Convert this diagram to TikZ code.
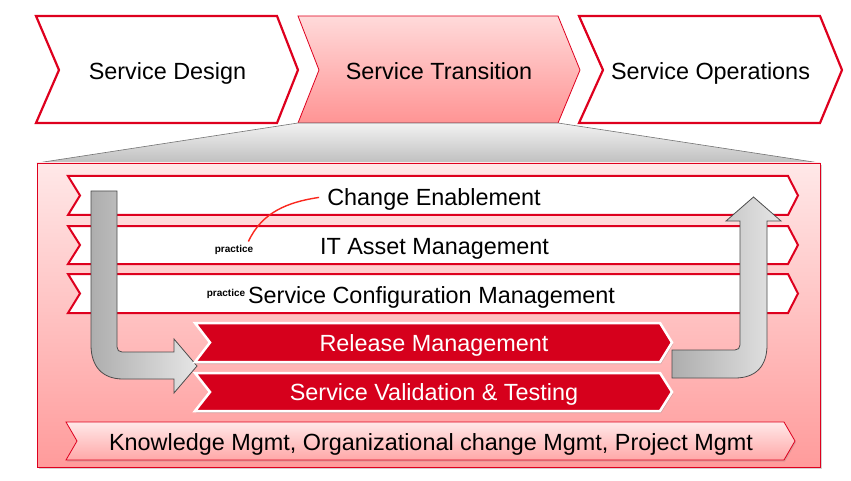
\documentclass[tikz,border=0pt]{standalone}
\usepackage{fontspec}
\setmainfont{Liberation Sans}
\usetikzlibrary{shadows}
\definecolor{itilred}{RGB}{222,0,30}
\definecolor{itilfill}{RGB}{214,0,28}
\definecolor{curvered}{RGB}{250,40,30}
\begin{document}
\begin{tikzpicture}[x=1pt,y=-1pt,
  bigtext/.style={font=\fontsize{23.4}{27}\selectfont, text height=16.8pt, text depth=0pt, inner sep=0pt},
  smalltext/.style={font=\fontsize{10}{12}\selectfont\bfseries, inner sep=0pt},
  phaseplain/.style={draw=itilred, line width=2.2pt, fill=white, line join=miter},
  phaseactive/.style={draw=itilred, line width=0.8pt, top color={rgb,255:red,255;green,218;blue,218}, bottom color={rgb,255:red,255;green,148;blue,148}},
  zoomfan/.style={draw=black!55, line width=0.6pt, top color=black!5, bottom color=black!25},
  stagebox/.style={draw=itilred, line width=0.8pt, top color={rgb,255:red,255;green,232;blue,232}, bottom color={rgb,255:red,255;green,155;blue,155}, drop shadow={shadow xshift=1.5pt, shadow yshift=-2pt, opacity=0.35}},
  practicerow/.style={draw=itilred, line width=2pt, fill=white},
  keyrow/.style={draw=white, line width=2.5pt, fill=itilfill, drop shadow={shadow xshift=1pt, shadow yshift=-2pt, opacity=0.35}},
  supportrow/.style={draw=itilred, line width=0.8pt, top color={rgb,255:red,255;green,232;blue,232}, bottom color={rgb,255:red,255;green,168;blue,168}, drop shadow={shadow xshift=1pt, shadow yshift=-1.5pt, opacity=0.25}},
  flowarrow/.style={draw=black!70, line width=0.8pt, left color=black!32, right color=black!10},
]
\useasboundingbox (0,0) rectangle (851,481);

% lifecycle phases
\path[phaseplain] (36,16) -- (277,16) -- (298,70) -- (277,123) -- (36,123) -- (59,70) -- cycle;
\path[phaseactive] (298,16) -- (558,16) -- (580,70) -- (558,123) -- (298,123) -- (319,70) -- cycle;
\path[phaseplain] (579,16) -- (820,16) -- (842,70) -- (820,123) -- (579,123) -- (603,70) -- cycle;

% fan opening out of the transition phase
\path[zoomfan] (298,123) -- (558,123) -- (820,163) -- (37,163) -- cycle;

% stage box
\path[stagebox] (37,163) rectangle (820,467);

% practice rows
\path[practicerow] (68,176) -- (788,176) -- (798,195.5) -- (788,215) -- (68,215) -- (80,195.5) -- cycle;
\path[practicerow] (68,226) -- (788,226) -- (798,245) -- (788,264) -- (68,264) -- (80,245) -- cycle;
\path[practicerow] (68,274) -- (788,274) -- (798,293.5) -- (788,313) -- (68,313) -- (80,293.5) -- cycle;

% supporting practices
\path[supportrow] (66,422) -- (784,422) -- (795,441) -- (784,460) -- (66,460) -- (77,441) -- cycle;

% flow into the key practices
\path[flowarrow] (91,191) -- (117,191) -- (117,347) .. controls (117,350) and (119,352) .. (122,352)
  -- (174,352) -- (174,339) -- (197,366) -- (174,393) -- (174,379) -- (123,379)
  .. controls (102,379) and (91,366) .. (91,345) -- cycle;

% key practices
\path[keyrow] (195,323) -- (660,323) -- (672,342.5) -- (660,362) -- (195,362) -- (210,342.5) -- cycle;
\path[keyrow] (195,373) -- (660,373) -- (672,392) -- (660,411) -- (195,411) -- (210,392) -- cycle;

% flow back out
\path[flowarrow] (672,350) -- (735,350) .. controls (738,350) and (740,348) .. (740,345)
  -- (740,221) -- (726,221) -- (753.5,197) -- (781,221) -- (767,221) -- (767,345)
  .. controls (767,366) and (756,378) .. (735,378) -- (672,378) -- cycle;

% labels
\node[bigtext] (design) at (167.5,71.5) {Service Design};
\node[bigtext] (transition) at (439,71.5) {Service Transition};
\node[bigtext] (operations) at (710.5,71.5) {Service Operations};

\node[bigtext] (change) at (434,197.4) {Change Enablement};
\node[bigtext] (asset) at (434.5,246.5) {IT Asset Management};
\node[bigtext] (config) at (431.5,295) {Service Configuration Management};
\node[bigtext, text=white] (release) at (434,343.5) {Release Management};
\node[bigtext, text=white] (validation) at (434,392) {Service Validation \& Testing};
\node[bigtext] (support) at (431,442.5) {Knowledge Mgmt, Organizational change Mgmt, Project Mgmt};

\node[smalltext, anchor=base] (practiceA) at (234,252) {practice};
\node[smalltext, anchor=base] (practiceB) at (226,296.5) {practice};

\draw[curvered, line width=1.4pt] (practiceA.north east) ++(-5,-3) coordinate (ca)
  (ca) .. controls (262,212) and (288,202) .. ([xshift=-8pt]change.west);
\end{tikzpicture}
\end{document}
